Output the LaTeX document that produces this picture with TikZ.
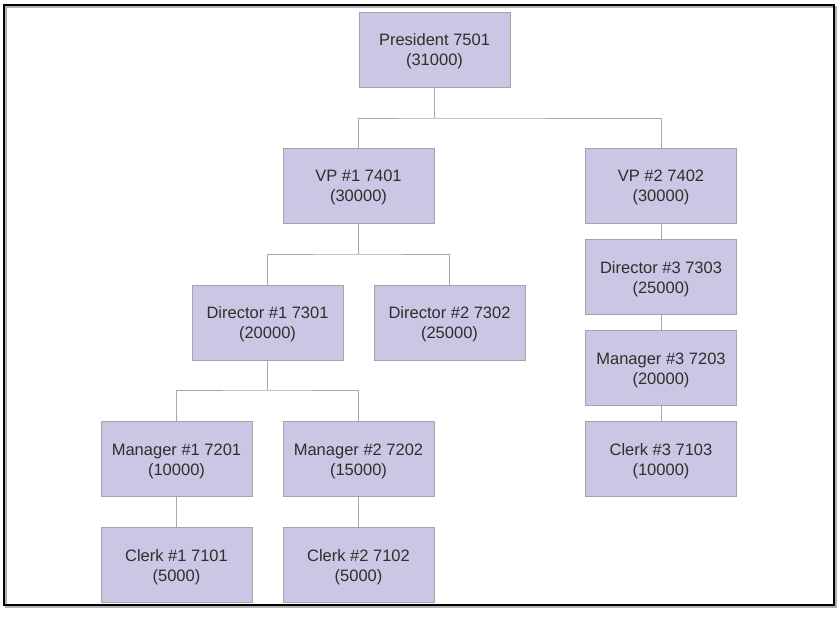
\documentclass[tikz,border=0pt]{standalone}
\usepackage{fontspec}
\setmainfont{Liberation Sans}
\definecolor{boxfill}{HTML}{C9C7E3}
\definecolor{boxline}{HTML}{A3A3A8}
\definecolor{linkline}{HTML}{A8A8A8}
\definecolor{txt}{HTML}{2E2E2E}
\begin{document}
\begin{tikzpicture}[x=1pt,y=-1pt,
  unit/.style={draw=boxline,fill=boxfill,line width=0.8pt,minimum width=151pt,minimum height=75pt,
    inner sep=0pt,label={[unittext]center:#1}},
  unittext/.style={align=center,inner sep=0pt,text=txt,yshift=-2pt,font=\fontsize{16.5}{20}\selectfont},
  link/.style={draw=linkline,line width=0.9pt}]
\useasboundingbox (0,0) rectangle (837,616);
\draw[draw=gray!60,line width=1.2pt] (6,7) rectangle (836,607);
\draw[black,line width=1.3pt] (4,5) rectangle (834,605);
\node[unit={President 7501\\(31000)}] (pres) at (434.5,49.5) {};
\node[unit={VP \#1 7401\\(30000)}] (vp1) at (358.5,185.5) {};
\node[unit={VP \#2 7402\\(30000)}] (vp2) at (661,185.5) {};
\node[unit={Director \#1 7301\\(20000)}] (d1) at (267.5,322.5) {};
\node[unit={Director \#2 7302\\(25000)}] (d2) at (449.5,322.5) {};
\node[unit={Director \#3 7303\\(25000)}] (d3) at (661,277) {};
\node[unit={Manager \#3 7203\\(20000)}] (m3) at (661,368) {};
\node[unit={Clerk \#3 7103\\(10000)}] (c3) at (661,459) {};
\node[unit={Manager \#1 7201\\(10000)}] (m1) at (176.5,459) {};
\node[unit={Manager \#2 7202\\(15000)}] (m2) at (358.5,459) {};
\node[unit={Clerk \#1 7101\\(5000)}] (c1) at (176.5,565) {};
\node[unit={Clerk \#2 7102\\(5000)}] (c2) at (358.5,565) {};
\coordinate (j1) at (434.5,118);
\coordinate (j2) at (358.5,254);
\coordinate (j3) at (267.5,390);
\draw[link] (pres.south) -- (j1);
\draw[link] (vp1.north) |- (j1) -| (vp2.north);
\draw[link] (vp1.south) -- (j2);
\draw[link] (d1.north) |- (j2) -| (d2.north);
\draw[link] (d1.south) -- (j3);
\draw[link] (m1.north) |- (j3) -| (m2.north);
\draw[link] (m1.south) -- (c1.north);
\draw[link] (m2.south) -- (c2.north);
\draw[link] (vp2.south) -- (d3.north);
\draw[link] (d3.south) -- (m3.north);
\draw[link] (m3.south) -- (c3.north);
\end{tikzpicture}
\end{document}
